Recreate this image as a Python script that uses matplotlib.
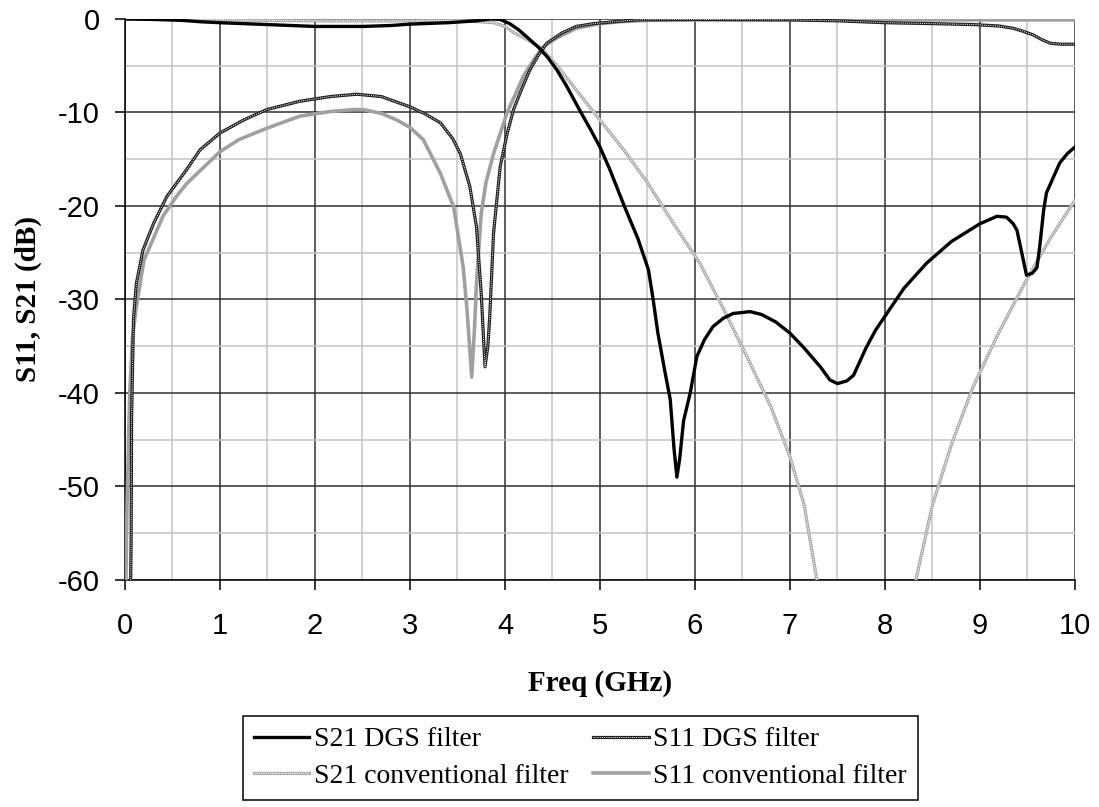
import matplotlib
matplotlib.use("Agg")
import matplotlib.pyplot as plt
from matplotlib.ticker import MultipleLocator
from matplotlib.legend_handler import HandlerTuple

plt.rcParams["axes.unicode_minus"] = False

# S21 of the DGS filter (GHz, dB)
s21_dgs_f = [0.0, 0.3, 0.6, 0.8, 1.0, 1.5, 2.0, 2.5, 2.8, 3.0, 3.4, 3.7, 3.85, 3.95,
             4.05, 4.15, 4.25, 4.35, 4.45, 4.55, 4.65, 4.8, 4.9, 5.0, 5.1, 5.26, 5.4,
             5.51, 5.56, 5.61, 5.68, 5.74, 5.78, 5.81, 5.84, 5.88, 5.95, 6.02, 6.1,
             6.19, 6.3, 6.4, 6.58, 6.7, 6.85, 7.0, 7.15, 7.32, 7.42, 7.5, 7.6, 7.67,
             7.8, 7.9, 8.02, 8.2, 8.44, 8.7, 9.0, 9.18, 9.28, 9.35, 9.39, 9.44, 9.49,
             9.55, 9.6, 9.63, 9.67, 9.7, 9.77, 9.84, 9.92, 10.0]
s21_dgs_db = [0.0, -0.05, -0.15, -0.3, -0.4, -0.6, -0.8, -0.8, -0.7, -0.55, -0.4, -0.2, 0.0, -0.05,
              -0.5, -1.2, -2.1, -3.0, -4.1, -5.5, -7.2, -10.0, -11.8, -13.7, -16.0, -20.1, -23.5,
              -26.8, -30.0, -33.6, -37.5, -40.7, -46.0, -49.0, -47.0, -43.0, -40.0, -36.1, -34.3,
              -32.9, -32.0, -31.5, -31.3, -31.6, -32.4, -33.6, -35.2, -37.2, -38.6, -39.0, -38.7, -38.1,
              -35.2, -33.3, -31.5, -28.8, -26.1, -23.8, -21.9, -21.1, -21.2, -21.9, -22.6, -25.0, -27.4,
              -27.2, -26.6, -24.3, -20.5, -18.6, -17.0, -15.4, -14.4, -13.7]

# S11 of the DGS filter
s11_dgs_f = [0.06, 0.065, 0.07, 0.09, 0.12, 0.19, 0.3, 0.44, 0.65, 0.79, 1.0, 1.25, 1.49,
             1.84, 2.16, 2.44, 2.7, 3.0, 3.15, 3.32, 3.45, 3.53, 3.63, 3.7, 3.75, 3.79,
             3.82, 3.84, 3.88, 3.95, 4.02, 4.09, 4.18, 4.26, 4.35, 4.44, 4.6, 4.75, 4.93,
             5.2, 5.4, 6.0, 7.0, 7.5, 8.0, 8.5, 8.93, 9.2, 9.35, 9.45, 9.56, 9.65, 9.74,
             9.85, 10.0]
s11_dgs_db = [-60.0, -55.7, -42.5, -32.0, -28.3, -24.7, -21.9, -19.0, -16.1, -14.0, -12.2, -10.8, -9.7,
              -8.8, -8.3, -8.05, -8.3, -9.4, -10.1, -11.1, -12.8, -14.4, -17.9, -22.2, -29.3, -37.2,
              -35.0, -31.8, -22.9, -15.8, -12.4, -9.7, -7.4, -5.5, -3.9, -2.6, -1.5, -0.8, -0.5,
              -0.25, -0.1, -0.05, -0.1, -0.2, -0.4, -0.5, -0.6, -0.75, -1.0, -1.3, -1.7, -2.2, -2.6,
              -2.7, -2.7]

# S21 of the conventional filter (the null between 7.3 and 8.3 GHz is below -60)
s21_conv_f = [0.0, 1.0, 2.0, 3.0, 3.5, 3.88, 4.0, 4.1, 4.25, 4.4, 4.55, 4.72, 5.0, 5.25,
              5.5, 5.75, 6.05, 6.3, 6.58, 6.8, 7.0, 7.15, 7.28, 7.5, 7.8, 8.1, 8.33, 8.5,
              8.7, 8.93, 9.2, 9.49, 9.75, 10.0]
s21_conv_db = [0.0, -0.1, -0.2, -0.2, -0.15, -0.4, -0.8, -1.5, -2.3, -3.3, -5.0, -7.2, -10.8, -14.0,
               -17.5, -21.5, -26.1, -31.0, -36.8, -41.5, -46.8, -52.0, -59.8, -72.0, -85.0, -72.0, -59.8, -52.0,
               -45.5, -39.3, -33.5, -27.9, -23.3, -19.4]

# S11 of the conventional filter
s11_conv_f = [0.01, 0.02, 0.05, 0.08, 0.12, 0.2, 0.4, 0.54, 0.65, 1.0, 1.2, 1.49, 1.84,
              2.16, 2.4, 2.51, 2.7, 2.86, 3.0, 3.14, 3.32, 3.46, 3.56, 3.6, 3.65, 3.68,
              3.7, 3.75, 3.8, 3.88, 4.02, 4.19, 4.3, 4.4, 4.55, 4.75, 5.0, 5.2, 5.5, 6.0, 10.0]
s11_conv_db = [-60.0, -53.0, -40.0, -34.0, -30.8, -25.8, -21.1, -19.0, -17.6, -14.2, -12.9, -11.7, -10.4,
               -9.9, -9.7, -9.7, -10.1, -10.8, -11.6, -12.9, -16.5, -20.1, -26.5, -31.0, -38.3, -33.0,
               -28.3, -20.8, -17.5, -14.4, -10.1, -6.2, -4.4, -3.0, -2.0, -1.0, -0.5, -0.3, -0.15, -0.1, -0.1]

labels = ["S21 DGS filter", "S11 DGS filter",
          "S21 conventional filter", "S11 conventional filter"]

fig = plt.figure(figsize=(10.99, 8.07), dpi=100)
ax = fig.add_axes([0.1137, 0.2813, 0.8644, 0.6952])

# conventional S21: light hatched look (gray line + white dots on top)
c21a, = ax.plot(s21_conv_f, s21_conv_db, color="#a8a8a8", lw=2.3, zorder=3)
c21b, = ax.plot(s21_conv_f, s21_conv_db, color="white", lw=0.8, ls=(0, (1, 1)), zorder=3.1)
# conventional S11: solid gray
c11, = ax.plot(s11_conv_f, s11_conv_db, color="#a0a0a0", lw=2.6, zorder=4)
# DGS S11: black hatched look
d11a, = ax.plot(s11_dgs_f, s11_dgs_db, color="#202020", lw=2.3, zorder=5)
d11b, = ax.plot(s11_dgs_f, s11_dgs_db, color="white", lw=0.7, ls=(0, (1, 1.2)), zorder=5.1)
# DGS S21: thick black
d21, = ax.plot(s21_dgs_f, s21_dgs_db, color="black", lw=2.4, zorder=6)

ax.set_xlim(0, 10)
ax.set_ylim(-60, 0)
ax.xaxis.set_major_locator(MultipleLocator(1))
ax.xaxis.set_minor_locator(MultipleLocator(0.5))
ax.yaxis.set_major_locator(MultipleLocator(10))
ax.yaxis.set_minor_locator(MultipleLocator(5))
ax.grid(which="minor", color="#c4c4c4", lw=1.1, zorder=0)
ax.grid(which="major", color="#303030", lw=1.1, zorder=1)
ax.set_axisbelow(True)

for side in ["top", "right"]:
    ax.spines[side].set_visible(False)
for side in ["left", "bottom"]:
    ax.spines[side].set_color("black")
    ax.spines[side].set_linewidth(1.1)

ax.tick_params(which="major", direction="out", length=7, width=1.1, color="black")
ax.tick_params(which="minor", length=0)
ax.tick_params(axis="x", pad=16)
ax.tick_params(axis="y", pad=11)
for t in ax.get_xticklabels() + ax.get_yticklabels():
    t.set_fontfamily("Liberation Sans")
    t.set_fontsize(21)

ax.set_xlabel("Freq (GHz)", fontfamily="Liberation Serif", fontweight="bold", fontsize=21)
ax.set_ylabel("S11, S21 (dB)", fontfamily="Liberation Serif", fontweight="bold", fontsize=21)
ax.xaxis.set_label_coords(0.5, -0.16)
ax.yaxis.set_label_coords(-0.087, 0.5)

handles = [d21, (c21a, c21b), (d11a, d11b), c11]
leg_labels = [labels[0], labels[2], labels[1], labels[3]]
leg = fig.legend(handles, leg_labels, ncol=2, loc="center",
                 bbox_to_anchor=(0.528, 0.0607),
                 handler_map={tuple: HandlerTuple(ndivide=1, pad=0)},
                 prop={"family": "Liberation Serif", "size": 20},
                 frameon=True, fancybox=False, edgecolor="black", framealpha=1,
                 handlelength=2.0, handletextpad=0.15, columnspacing=0.9,
                 labelspacing=0.4, borderpad=0.4, borderaxespad=0)
leg.get_frame().set_linewidth(1.1)

fig.savefig("out.png", dpi=100)
